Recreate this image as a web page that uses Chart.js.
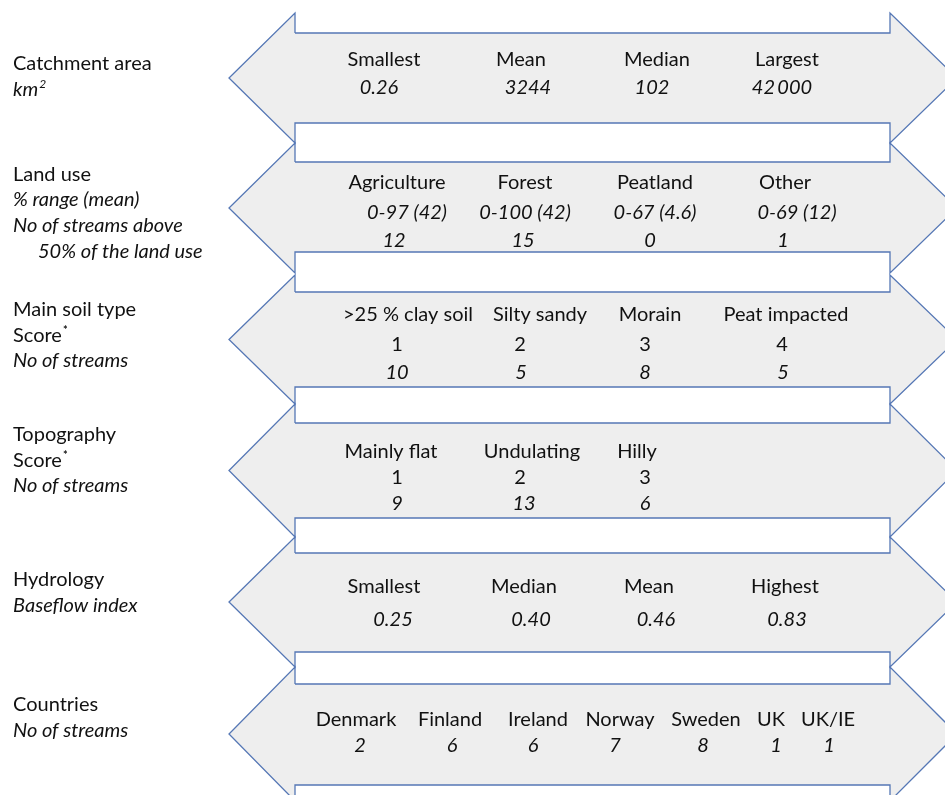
<!DOCTYPE html>
<html>
  <head>
    <style>
      html, body { margin: 0; padding: 0; background: #fff; }
      #wrap { width: 945px; height: 795px; }
    </style>
    <script src="https://cdn.jsdelivr.net/npm/chart.js"></script>
  </head>
  <body>
    <div id="wrap"><canvas id="arrowChart"></canvas></div>

    <script>
      // ---- data ----
      var rowTitles = ['Catchment area', 'Land use', 'Main soil type', 'Topography', 'Hydrology', 'Countries'];

      var catchmentLabels = ['Smallest', 'Mean', 'Median', 'Largest'];
      var catchmentValues = ['0.26', '3244', '102', '42\u2009000'];

      var landUseLabels = ['Agriculture', 'Forest', 'Peatland', 'Other'];
      var landUseRanges = ['0-97 (42)', '0-100 (42)', '0-67 (4.6)', '0-69 (12)'];
      var landUseStreams = [12, 15, 0, 1];

      var soilLabels = ['>25 % clay soil', 'Silty sandy', 'Morain', 'Peat impacted'];
      var soilScores = [1, 2, 3, 4];
      var soilStreams = [10, 5, 8, 5];

      var topoLabels = ['Mainly flat', 'Undulating', 'Hilly'];
      var topoScores = [1, 2, 3];
      var topoStreams = [9, 13, 6];

      var hydroLabels = ['Smallest', 'Median', 'Mean', 'Highest'];
      var hydroValues = [0.25, 0.40, 0.46, 0.83];

      var countryLabels = ['Denmark', 'Finland', 'Ireland', 'Norway', 'Sweden', 'UK', 'UK/IE'];
      var countryStreams = [2, 6, 6, 7, 8, 1, 1];

      // ---- layout (page units, y grows downward) ----
      var TIP_L = 229, SHAFT_L = 295, SHAFT_R = 890, TIP_R = 957;
      var headTop     = [13, 143, 275, 404, 537, 667];
      var shaftTop    = [33, 162, 292, 423, 553, 684];
      var shaftBottom = [123, 252, 387, 518, 652, 785];
      var headBottom  = [143, 273, 404, 537, 667, 801];

      // left side labels: [text, y, italic, indent, superscript]
      var sideLines = [
        [rowTitles[0], 64, false], ['km', 90, true, 0, '2'],
        [rowTitles[1], 175, false], ['% range (mean)', 200, true],
        ['No of streams above', 226, true], ['50% of the land use', 252, true, 25],
        [rowTitles[2], 310, false], ['Score', 336, false, 0, '*'], ['No of streams', 361, true],
        [rowTitles[3], 435, false], ['Score', 461, false, 0, '*'], ['No of streams', 486, true],
        [rowTitles[4], 580, false], ['Baseflow index', 606, true],
        [rowTitles[5], 705, false], ['No of streams', 731, true]
      ];

      // centre rows: texts, y, italic, x of each column
      var centreLines = [
        [catchmentLabels, 60, false, [384, 521, 657, 787]],
        [catchmentValues, 88, true, [379, 528, 652, 782]],
        [landUseLabels, 183, false, [397, 525, 655, 785]],
        [landUseRanges, 213, true, [407, 525, 655, 797]],
        [landUseStreams, 241, true, [394, 523, 650, 783]],
        [soilLabels, 315, false, [408, 540, 650, 786]],
        [soilScores, 345, false, [397, 520, 645, 782]],
        [soilStreams, 373, true, [397, 521, 645, 783]],
        [topoLabels, 452, false, [391, 532, 637]],
        [topoScores, 478, false, [397, 520, 645]],
        [topoStreams, 504, true, [397, 524, 645]],
        [hydroLabels, 587, false, [384, 524, 649, 785]],
        [hydroValues.map(function (v) { return v.toFixed(2); }), 620, true, [393, 531, 656, 787]],
        [countryLabels, 720, false, [356, 450, 538, 620, 706, 771, 828]],
        [countryStreams, 746, true, [360, 452, 533, 615, 703, 776, 829]]
      ];

      var FONT = 'Lato, "Open Sans", sans-serif';
      var TEXT = '#111111';

      function arrowPoints(i) {
        var mid = (headTop[i] + headBottom[i]) / 2;
        return [
          { x: SHAFT_L, y: shaftTop[i] }, { x: SHAFT_R, y: shaftTop[i] },
          { x: SHAFT_R, y: headTop[i] }, { x: TIP_R, y: mid },
          { x: SHAFT_R, y: headBottom[i] }, { x: SHAFT_R, y: shaftBottom[i] },
          { x: SHAFT_L, y: shaftBottom[i] }, { x: SHAFT_L, y: headBottom[i] },
          { x: TIP_L, y: mid }, { x: SHAFT_L, y: headTop[i] },
          { x: SHAFT_L, y: shaftTop[i] }
        ];
      }

      var datasets = rowTitles.map(function (t, i) {
        return {
          label: t,
          data: arrowPoints(i),
          showLine: true,
          fill: 'shape',
          backgroundColor: '#eeeeee',
          borderColor: '#5577b5',
          borderWidth: 1.3,
          borderJoinStyle: 'miter',
          tension: 0,
          pointRadius: 0,
          pointHoverRadius: 0
        };
      });

      var textPlugin = {
        id: 'arrowText',
        afterDatasetsDraw: function (chart) {
          var ctx = chart.ctx;
          var xs = chart.scales.x, ys = chart.scales.y;
          ctx.save();
          ctx.fillStyle = TEXT;
          ctx.textBaseline = 'middle';

          sideLines.forEach(function (l) {
            var px = xs.getPixelForValue(13 + (l[3] || 0));
            var py = ys.getPixelForValue(l[1]);
            ctx.font = (l[2] ? 'italic ' : '') + '20px ' + FONT;
            ctx.textAlign = 'left';
            ctx.fillText(l[0], px, py);
            if (l[4]) {
              var w = ctx.measureText(l[0]).width;
              ctx.font = (l[4] === '*' ? 'bold 11px ' : 'italic 12px ') + FONT;
              ctx.fillText(l[4], px + w + 1, py - 6);
            }
          });

          centreLines.forEach(function (l) {
            ctx.font = (l[2] ? 'italic ' : '') + '20px ' + FONT;
            ctx.textAlign = 'center';
            l[0].forEach(function (txt, j) {
              ctx.fillText(String(txt), xs.getPixelForValue(l[3][j]), ys.getPixelForValue(l[1]));
            });
          });
          ctx.restore();
        }
      };

      var ctx = document.getElementById('arrowChart').getContext('2d');
      new Chart(ctx, {
        type: 'scatter',
        data: { datasets: datasets },
        options: {
          responsive: true,
          maintainAspectRatio: false,
          animation: false,
          layout: { padding: 0 },
          plugins: { legend: { display: false }, tooltip: { enabled: false } },
          scales: {
            x: { type: 'linear', min: 0, max: 945, display: false },
            y: { type: 'linear', min: 0, max: 795, reverse: true, display: false }
          }
        },
        plugins: [textPlugin]
      });
    </script>
  </body>
</html>
